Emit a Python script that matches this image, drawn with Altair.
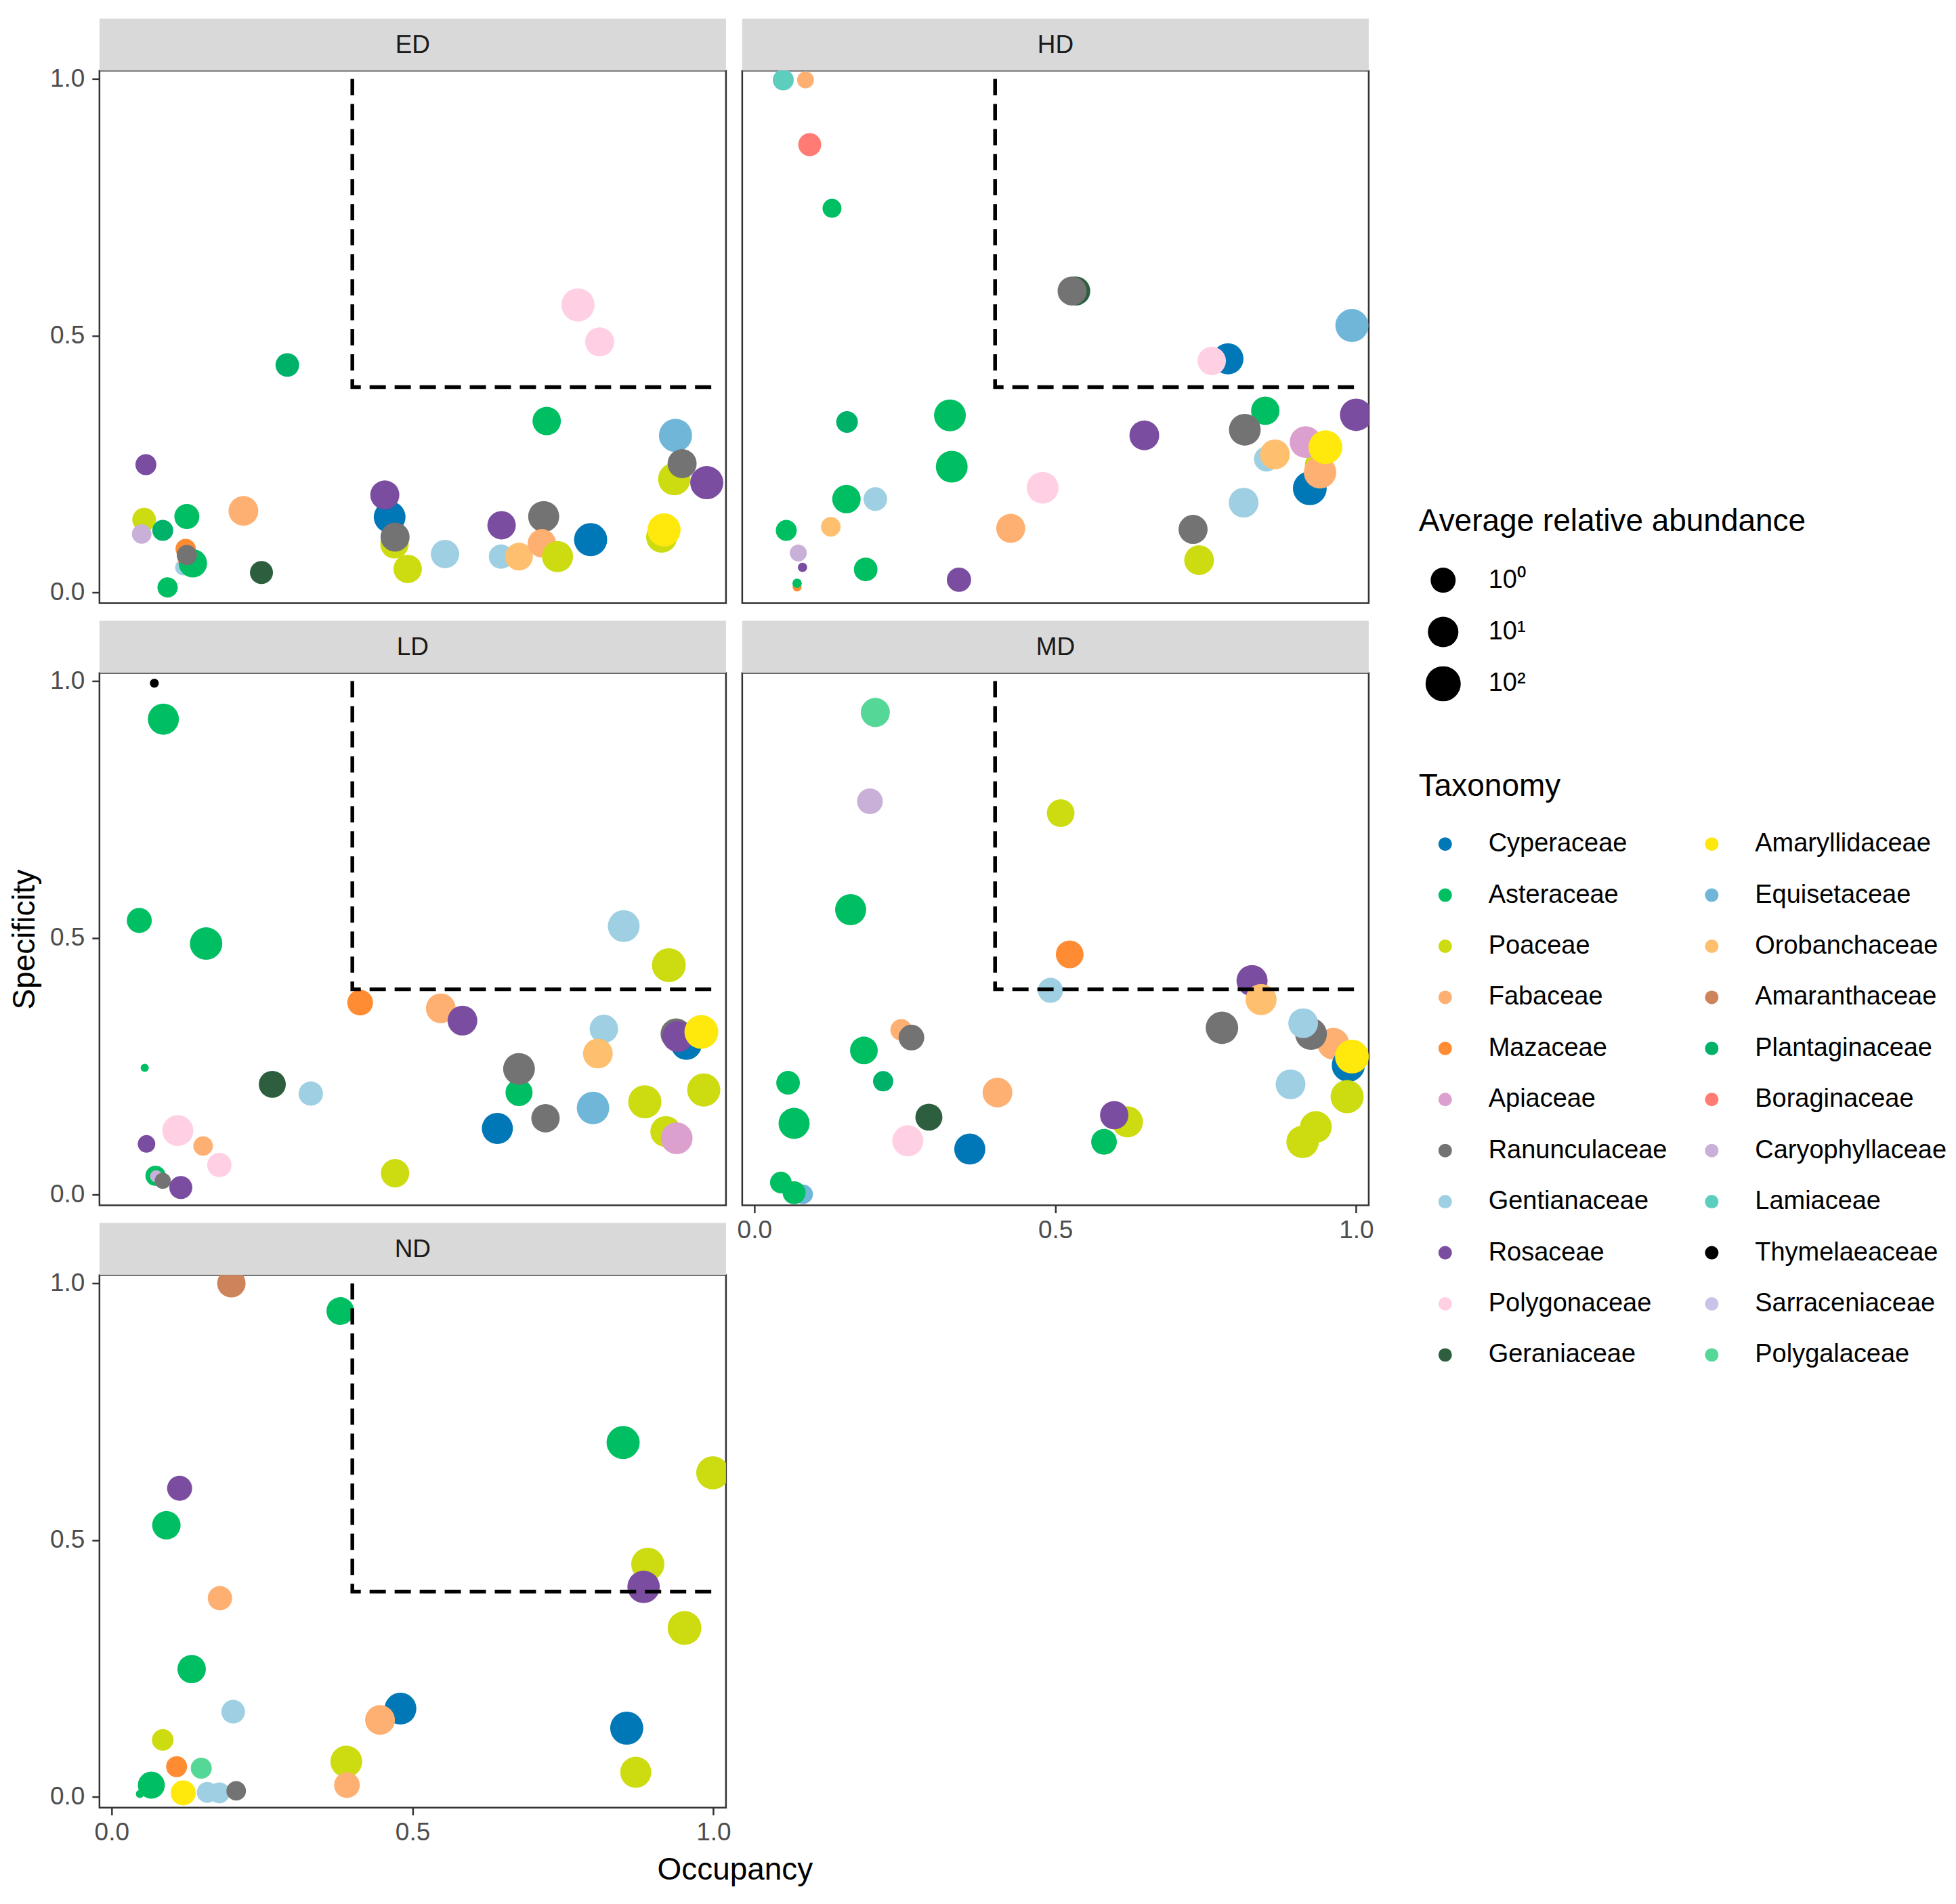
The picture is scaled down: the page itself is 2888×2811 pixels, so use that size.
import altair as alt
import pandas as pd

# ---------------- legend / colour data ----------------
FAMILIES_COL1 = ["Cyperaceae", "Asteraceae", "Poaceae", "Fabaceae", "Mazaceae", "Apiaceae",
                 "Ranunculaceae", "Gentianaceae", "Rosaceae", "Polygonaceae", "Geraniaceae"]
COLORS_COL1 = ["#0077B6", "#00BF63", "#CDDC10", "#FEB072", "#FF8C33", "#DCA0CE",
               "#737373", "#9ECFE2", "#7B4DA0", "#FFD0E4", "#2D5F3E"]
FAMILIES_COL2 = ["Amaryllidaceae", "Equisetaceae", "Orobanchaceae", "Amaranthaceae", "Plantaginaceae",
                 "Boraginaceae", "Caryophyllaceae", "Lamiaceae", "Thymelaeaceae", "Sarraceniaceae",
                 "Polygalaceae"]
COLORS_COL2 = ["#FFE80C", "#6FB6D9", "#FEBF6E", "#CD845A", "#00B16A",
               "#FF7B73", "#C9B0D8", "#5DCEBE", "#000000", "#C8C4E7", "#55D797"]

SIZE_BREAKS = [1, 10, 100]

# ---------------- panel data ----------------
ed_family = ["Polygonaceae", "Polygonaceae", "Plantaginaceae", "Asteraceae", "Equisetaceae", "Poaceae",
             "Ranunculaceae", "Rosaceae", "Rosaceae", "Fabaceae", "Poaceae", "Asteraceae",
             "Plantaginaceae", "Caryophyllaceae", "Gentianaceae", "Fabaceae", "Mazaceae", "Asteraceae",
             "Ranunculaceae", "Asteraceae", "Geraniaceae", "Cyperaceae", "Rosaceae", "Poaceae",
             "Ranunculaceae", "Poaceae", "Gentianaceae", "Rosaceae", "Gentianaceae", "Orobanchaceae",
             "Ranunculaceae", "Fabaceae", "Poaceae", "Cyperaceae", "Poaceae", "Amaryllidaceae"]
ed_occ = [0.775, 0.811, 0.292, 0.723, 0.937, 0.935, 0.948, 0.989, 0.057, 0.219, 0.054, 0.125,
          0.085, 0.050, 0.119, 0.125, 0.123, 0.135, 0.125, 0.093, 0.249, 0.462, 0.454, 0.470,
          0.471, 0.492, 0.554, 0.648, 0.647, 0.677, 0.718, 0.715, 0.741, 0.796, 0.914, 0.918]
ed_spec = [0.560, 0.488, 0.443, 0.334, 0.306, 0.221, 0.251, 0.214, 0.249, 0.159, 0.142, 0.148,
           0.121, 0.114, 0.049, 0.064, 0.085, 0.057, 0.073, 0.010, 0.039, 0.147, 0.190, 0.094,
           0.108, 0.046, 0.075, 0.131, 0.070, 0.070, 0.148, 0.096, 0.070, 0.103, 0.108, 0.122]
ed_abund = [35, 5.2, 0.44, 3.9, 35, 25, 5.2, 35, 0.1, 7.1, 0.44, 1.0,
            0.1, 0.05, 0.011, 0.027, 0.07, 3.9, 0.07, 0.07, 0.3, 18, 5.2, 3.9,
            5.2, 3.9, 3.9, 3.9, 0.66, 2.9, 13, 3.9, 13, 35, 13, 35]

hd_family = ["Lamiaceae", "Fabaceae", "Boraginaceae", "Asteraceae", "Geraniaceae", "Ranunculaceae",
             "Equisetaceae", "Cyperaceae", "Polygonaceae", "Asteraceae", "Plantaginaceae", "Asteraceae",
             "Asteraceae", "Gentianaceae", "Asteraceae", "Orobanchaceae", "Caryophyllaceae", "Rosaceae",
             "Mazaceae", "Asteraceae", "Asteraceae", "Rosaceae", "Polygonaceae", "Fabaceae",
             "Rosaceae", "Asteraceae", "Ranunculaceae", "Gentianaceae", "Orobanchaceae", "Gentianaceae",
             "Ranunculaceae", "Poaceae", "Cyperaceae", "Poaceae", "Fabaceae", "Apiaceae",
             "Amaryllidaceae", "Rosaceae"]
hd_occ = [0.048, 0.085, 0.092, 0.129, 0.534, 0.528, 0.993, 0.787, 0.760, 0.325, 0.154, 0.328,
          0.153, 0.201, 0.053, 0.127, 0.073, 0.080, 0.071, 0.071, 0.185, 0.340, 0.479, 0.426,
          0.648, 0.849, 0.815, 0.851, 0.865, 0.813, 0.729, 0.739, 0.923, 0.935, 0.940, 0.916,
          0.949, 1.000]
hd_spec = [0.998, 0.998, 0.872, 0.748, 0.587, 0.587, 0.520, 0.455, 0.451, 0.345, 0.332, 0.245,
           0.182, 0.182, 0.121, 0.128, 0.077, 0.049, 0.011, 0.018, 0.045, 0.025, 0.204, 0.125,
           0.306, 0.354, 0.317, 0.260, 0.269, 0.175, 0.123, 0.063, 0.203, 0.249, 0.234, 0.293,
           0.283, 0.346]
hd_abund = [0.1, 0.015, 0.3, 0.037, 5.2, 5.2, 35, 13, 3.9, 18, 0.14, 18,
            3.9, 0.44, 0.1, 0.05, 0.015, 0.0013, 0.0012, 0.0013, 0.44, 0.66, 18, 5.2,
            7.1, 3.9, 18, 1.0, 7.1, 7.1, 5.2, 7.1, 49, 0.66, 25, 18,
            49, 25]

ld_family = ["Thymelaeaceae", "Asteraceae", "Asteraceae", "Asteraceae", "Asteraceae", "Gentianaceae",
             "Poaceae", "Mazaceae", "Fabaceae", "Rosaceae", "Gentianaceae", "Orobanchaceae",
             "Cyperaceae", "Ranunculaceae", "Rosaceae", "Amaryllidaceae", "Asteraceae", "Ranunculaceae",
             "Geraniaceae", "Gentianaceae", "Equisetaceae", "Poaceae", "Poaceae", "Ranunculaceae",
             "Cyperaceae", "Poaceae", "Apiaceae", "Poaceae", "Polygonaceae", "Fabaceae",
             "Polygonaceae", "Rosaceae", "Asteraceae", "Caryophyllaceae", "Ranunculaceae", "Rosaceae"]
ld_occ = [0.071, 0.086, 0.046, 0.157, 0.055, 0.851, 0.926, 0.413, 0.547, 0.583, 0.818, 0.808,
          0.955, 0.938, 0.941, 0.980, 0.677, 0.677, 0.267, 0.331, 0.800, 0.886, 0.984, 0.721,
          0.641, 0.921, 0.939, 0.471, 0.110, 0.152, 0.179, 0.058, 0.073, 0.074, 0.085, 0.115]
ld_spec = [0.996, 0.926, 0.534, 0.489, 0.247, 0.523, 0.447, 0.374, 0.363, 0.339, 0.323, 0.275,
           0.293, 0.313, 0.308, 0.317, 0.199, 0.245, 0.215, 0.197, 0.169, 0.181, 0.204, 0.149,
           0.129, 0.123, 0.110, 0.042, 0.125, 0.095, 0.058, 0.099, 0.037, 0.036, 0.027, 0.014]
ld_abund = [0.0012, 13, 1.0, 25, 0.001, 18, 49, 1.3, 7.1, 7.1, 3.9, 7.1,
            13, 13, 13, 49, 2.2, 18, 2.2, 0.66, 25, 35, 35, 3.9,
            13, 13, 18, 3.9, 13, 0.05, 0.66, 0.02, 0.07, 0.0028, 0.011, 0.3]

md_family = ["Polygalaceae", "Caryophyllaceae", "Poaceae", "Asteraceae", "Mazaceae", "Gentianaceae",
             "Rosaceae", "Orobanchaceae", "Ranunculaceae", "Fabaceae", "Ranunculaceae", "Gentianaceae",
             "Cyperaceae", "Amaryllidaceae", "Poaceae", "Gentianaceae", "Poaceae", "Poaceae",
             "Fabaceae", "Ranunculaceae", "Asteraceae", "Plantaginaceae", "Asteraceae", "Asteraceae",
             "Fabaceae", "Geraniaceae", "Polygonaceae", "Cyperaceae", "Poaceae", "Rosaceae",
             "Asteraceae", "Asteraceae", "Equisetaceae", "Asteraceae"]
md_occ = [0.201, 0.192, 0.509, 0.160, 0.524, 0.492, 0.827, 0.842, 0.777, 0.962, 0.925, 0.912,
          0.987, 0.993, 0.985, 0.891, 0.933, 0.911, 0.244, 0.261, 0.182, 0.214, 0.056, 0.066,
          0.404, 0.290, 0.255, 0.358, 0.620, 0.598, 0.581, 0.044, 0.081, 0.066]
md_spec = [0.939, 0.766, 0.743, 0.555, 0.468, 0.398, 0.417, 0.380, 0.325, 0.294, 0.313, 0.334,
           0.252, 0.269, 0.191, 0.215, 0.132, 0.103, 0.321, 0.306, 0.281, 0.221, 0.218, 0.139,
           0.199, 0.151, 0.105, 0.089, 0.142, 0.155, 0.103, 0.024, 0.001, 0.004]
md_abund = [5.2, 1.3, 2.9, 13, 2.9, 1.0, 13, 13, 25, 18, 18, 7.1,
            35, 49, 35, 7.1, 18, 25, 0.14, 1.3, 2.9, 0.07, 0.44, 13,
            7.1, 2.2, 13, 13, 13, 3.9, 1.3, 0.14, 0.05, 0.3]

nd_family = ["Amaranthaceae", "Asteraceae", "Asteraceae", "Poaceae", "Rosaceae", "Asteraceae",
             "Poaceae", "Rosaceae", "Poaceae", "Fabaceae", "Asteraceae", "Gentianaceae",
             "Cyperaceae", "Fabaceae", "Cyperaceae", "Poaceae", "Poaceae", "Poaceae",
             "Fabaceae", "Mazaceae", "Polygalaceae", "Asteraceae", "Asteraceae", "Amaryllidaceae",
             "Gentianaceae", "Gentianaceae", "Ranunculaceae"]
nd_occ = [0.199, 0.380, 0.850, 0.999, 0.113, 0.091, 0.891, 0.884, 0.952, 0.180, 0.133, 0.202,
          0.480, 0.446, 0.856, 0.085, 0.390, 0.871, 0.391, 0.108, 0.149, 0.047, 0.066, 0.119,
          0.159, 0.179, 0.207]
nd_spec = [1.000, 0.946, 0.690, 0.631, 0.601, 0.529, 0.453, 0.409, 0.329, 0.387, 0.249, 0.166,
           0.172, 0.150, 0.134, 0.111, 0.069, 0.048, 0.023, 0.059, 0.056, 0.006, 0.023, 0.008,
           0.009, 0.008, 0.012]
nd_abund = [3.9, 2.9, 35, 35, 1.0, 3.9, 35, 25, 49, 0.66, 3.9, 0.44,
            18, 7.1, 35, 0.14, 18, 13, 1.3, 0.1, 0.1, 0.001, 2.2, 1.0,
            0.1, 0.1, 0.05]

THRESH_OCC = [0.4, 0.4, 1.0]
THRESH_SPEC = [1.0, 0.4, 0.4]

# ---------------- chart construction ----------------
W, H, STRIP = 926, 787, 77
FONT = "Liberation Sans"

domain = FAMILIES_COL1 + FAMILIES_COL2
crange = COLORS_COL1 + COLORS_COL2

x_scale = alt.Scale(domain=[-0.0202, 1.0209], nice=False, zero=False)
y_scale = alt.Scale(domain=[-0.0207, 1.016], nice=False, zero=False)

color_enc = alt.Color(
    "family:N",
    scale=alt.Scale(domain=domain, range=crange),
    legend=alt.Legend(
        title="Taxonomy", orient="none", legendX=1950, legendY=1036,
        direction="vertical", columns=2, columnPadding=26,
        symbolType="circle", symbolSize=400, symbolStrokeWidth=0, symbolOpacity=1,
        symbolOffset=20, labelOffset=45, clipHeight=40, rowPadding=35.5,
        labelFontSize=38, labelColor="black", labelFont=FONT,
        titleFontSize=46, titleFontWeight="normal", titleColor="black", titleFont=FONT,
        titlePadding=41, labelLimit=600, titleLimit=900,
    ),
)

size_enc = alt.Size(
    "abundance:Q",
    scale=alt.Scale(type="log", domain=[0.001, 1, 100], range=[144, 1369, 2704], nice=False),
    legend=alt.Legend(
        title="Average relative abundance", orient="none", legendX=1950, legendY=644,
        direction="vertical", values=SIZE_BREAKS,
        labelExpr="datum.value == 1 ? '10⁰' : (datum.value == 10 ? '10¹' : '10²')",
        symbolType="circle", symbolFillColor="black", symbolStrokeWidth=0, symbolOpacity=1,
        symbolOffset=10, labelOffset=41, clipHeight=52, rowPadding=24.5,
        labelFontSize=38, labelColor="black", labelFont=FONT,
        titleFontSize=46, titleFontWeight="normal", titleColor="black", titleFont=FONT,
        titlePadding=37, titleLimit=900,
    ),
)


def y_axis(title):
    return alt.Axis(values=[0, 0.5, 1.0], format=".1f", labelFontSize=37, labelColor="#4D4D4D",
                    labelFont=FONT, tickColor="#333333", tickWidth=2.5, tickSize=11,
                    labelPadding=11, domain=False, grid=False, title=title, titleFontSize=46,
                    titleFontWeight="normal", titleColor="black", titleFont=FONT, titlePadding=13)


def x_axis(title, title_x):
    return alt.Axis(values=[0, 0.5, 1.0], format=".1f", labelFontSize=37, labelColor="#4D4D4D",
                    labelFont=FONT, tickColor="#333333", tickWidth=2.5, tickSize=11,
                    labelPadding=8, domain=False, grid=False, labelFlush=False, title=title,
                    titleFontSize=46, titleFontWeight="normal", titleColor="black",
                    titleFont=FONT, titlePadding=15, titleX=title_x)


thr_df = pd.DataFrame({"occupancy": THRESH_OCC, "specificity": THRESH_SPEC, "step": [0, 1, 2]})


def make_panel(name, fam, occ, spec, ab, show_x=False, show_y=False, x_title="", y_title=""):
    df = pd.DataFrame({"family": fam, "occupancy": occ, "specificity": spec, "abundance": ab,
                       "n": list(range(len(fam)))})
    xax = x_axis(x_title, 939) if show_x else None
    yax = y_axis(y_title) if show_y else None
    x_enc = alt.X("occupancy:Q", scale=x_scale, axis=xax)
    y_enc = alt.Y("specificity:Q", scale=y_scale, axis=yax)

    strip_df = pd.DataFrame({"panel": [name]})
    strip_rect = alt.Chart(strip_df).mark_rect(color="#D9D9D9").encode(
        x=alt.value(0), x2=alt.value(W), y=alt.value(-STRIP), y2=alt.value(0))
    strip_text = alt.Chart(strip_df).mark_text(
        fontSize=37, color="#1A1A1A", font=FONT, align="center", baseline="middle").encode(
        x=alt.value(W / 2), y=alt.value(-STRIP / 2 + 1), text="panel:N")

    pts = alt.Chart(df).mark_circle(opacity=1, clip=True, strokeWidth=0).encode(
        x=x_enc, y=y_enc, color=color_enc, size=size_enc, order="n:Q")
    thr = alt.Chart(thr_df).mark_line(
        color="black", strokeWidth=5.5, strokeDash=[24, 13], strokeCap="butt").encode(
        x=x_enc, y=y_enc, order="step:Q")
    return alt.layer(strip_rect, strip_text, pts, thr).properties(width=W, height=H)


ed = make_panel("ED", ed_family, ed_occ, ed_spec, ed_abund, show_y=True)
hd = make_panel("HD", hd_family, hd_occ, hd_spec, hd_abund)
ld = make_panel("LD", ld_family, ld_occ, ld_spec, ld_abund, show_y=True, y_title="Specificity")
md = make_panel("MD", md_family, md_occ, md_spec, md_abund, show_x=True)
nd = make_panel("ND", nd_family, nd_occ, nd_spec, nd_abund, show_x=True, show_y=True,
                x_title="Occupancy")

chart = alt.concat(ed, hd, ld, md, nd, columns=2, spacing={"row": 103, "column": 24},
                   bounds="flush").properties(
    padding={"left": 4, "top": 16, "right": 5, "bottom": 5},
    background="white",
).configure(font=FONT).configure_view(stroke="#333333", strokeWidth=2.5)

chart.save("out.html", embed_options={"renderer": "svg", "actions": False})
